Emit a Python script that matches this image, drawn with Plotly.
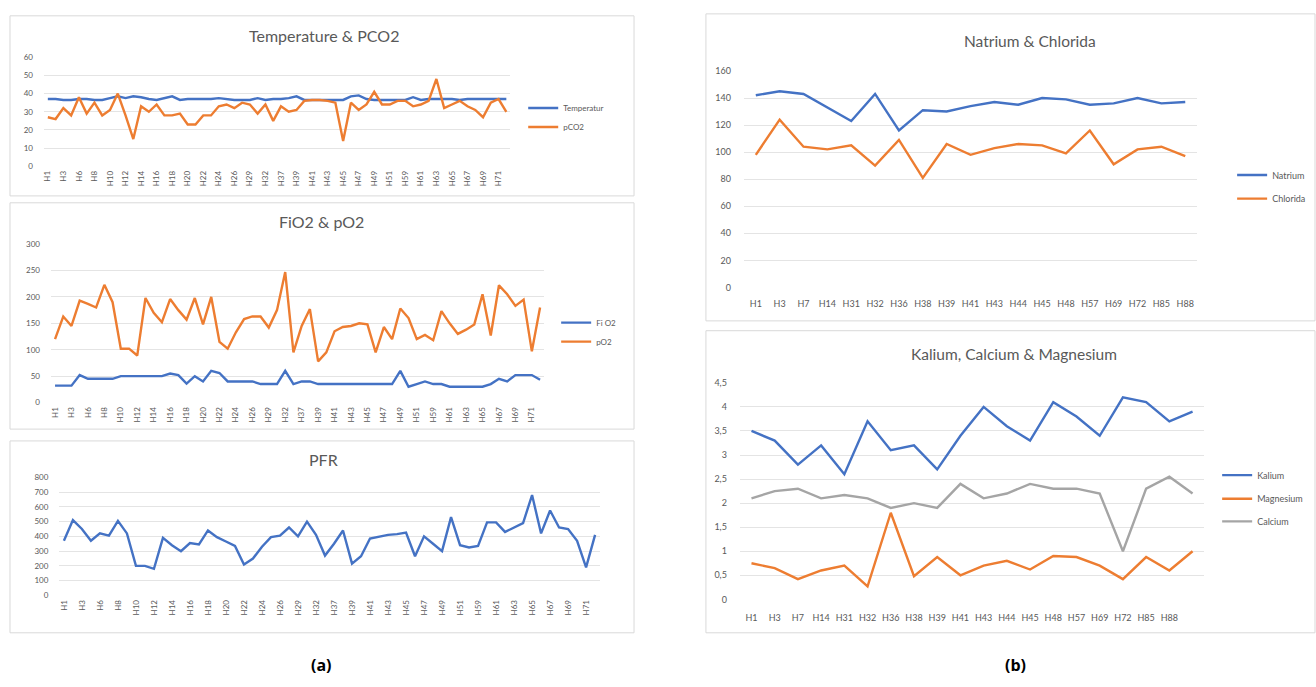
import plotly.graph_objects as go

# ---------------- data ----------------
left_cats = ["H1","H2","H3","H5","H6","H7","H8","H9","H10","H11",
             "H12","H13","H14","H15","H16","H17","H18","H19","H20","H21",
             "H22","H23","H24","H25","H26","H28","H29","H31","H32","H34",
             "H37","H38","H39","H40","H41","H42","H43","H44","H45","H46",
             "H47","H48","H49","H50","H51","H53","H59","H60","H61","H62",
             "H63","H64","H65","H66","H67","H68","H69","H70","H71","H72"]

temperatur = [37,37,36.5,36.5,37,37,36.5,36.5,37.5,38.5,
              37.5,38.5,38,37,36.5,37.5,38.5,36.5,37,37,
              37,37,37.5,37,36.5,36.5,36.5,37.5,36.5,37,
              37,37.5,38.5,36.5,36.5,36.5,36.5,36.5,36.5,38.5,
              39,37,36.5,36.5,36.5,36.5,36.5,38,36.5,37,
              37,37,37,36.5,37,37,37,37,37,37]
pco2 = [27,26,32,28,38,29,35,28,31,40,
        28,15,33,30,34,28,28,29,23,23,
        28,28,33,34,32,35,34,29,34,25,
        33,30,31,36,36.5,36.5,36,35,14,35,
        31,34,41,34,34,36,36,33,34,36,
        48,32,34,36,33,31,27,35,37,30]

fio2 = [32,32,32,52,45,45,45,45,50,50,
        50,50,50,50,55,52,36,50,40,60,
        56,40,40,40,40,35,35,35,60,35,
        40,40,35,35,35,35,35,35,35,35,
        35,35,60,30,35,40,35,35,30,30,
        30,30,30,35,45,40,52,52,52,43]
po2 = [120,163,145,193,187,180,223,190,102,102,
       89,198,170,152,196,175,157,198,148,200,
       115,102,133,158,163,163,142,175,247,95,
       145,177,78,95,135,143,145,150,148,95,
       143,120,178,160,120,128,118,173,150,130,
       138,148,205,127,222,205,183,195,97,180]

pfr = [370,510,450,370,420,405,505,420,200,200,
       180,390,340,300,355,345,440,395,365,335,
       210,250,330,395,405,460,400,500,410,270,
       350,440,215,265,385,400,410,415,425,265,
       400,350,300,530,340,325,335,495,495,430,
       460,490,680,420,575,460,450,370,190,410]

nacl_cats = ["H1","H3","H7","H14","H31","H32","H36","H38","H39","H41",
             "H43","H44","H45","H48","H57","H69","H72","H85","H88"]
natrium = [142,145,143,133,123,143,116,131,130,134,137,135,140,139,135,136,140,136,137]
chlorida = [98,124,104,102,105,90,109,81,106,98,103,106,105,99,116,91,102,104,97]

kcm_labels = ["H1","H3","H7","H14","H31","H32","H36","H38","H39","H41",
              "H43","H44","H45","H48","H57","H69","H72","H85","H88"]
kcm_x = list(range(20))
kalium = [3.5,3.3,2.8,3.2,2.6,3.7,3.1,3.2,2.7,3.4,4.0,3.6,3.3,4.1,3.8,3.4,4.2,4.1,3.7,3.9]
magnesium = [0.75,0.65,0.42,0.6,0.7,0.27,1.8,0.48,0.88,0.5,0.7,0.8,0.62,0.9,0.88,0.7,0.42,0.88,0.6,1.0]
calcium = [2.1,2.25,2.3,2.1,2.17,2.1,1.9,2.0,1.9,2.4,2.1,2.2,2.4,2.3,2.3,2.2,1.0,2.3,2.55,2.2]

# ---------------- layout helpers ----------------
W, H = 1316, 687
def px(x): return x / W
def py(y): return 1 - y / H

BLUE = "#4472C4"
ORANGE = "#ED7D31"
GRAY = "#A5A5A5"
TXT = "#595959"
FONT = "Lato"

fig = go.Figure()

def add_line(x, y, name, color, xa, ya, legend, show=True):
    fig.add_trace(go.Scatter(x=x, y=y, name=name, mode="lines",
                             line=dict(color=color, width=2.4),
                             xaxis=xa, yaxis=ya, legend=legend,
                             showlegend=show, hoverinfo="x+y+name"))

add_line(left_cats, temperatur, "Temperatur", BLUE, "x", "y", "legend")
add_line(left_cats, pco2, "pCO2", ORANGE, "x", "y", "legend")
add_line(left_cats, fio2, "Fi O2", BLUE, "x2", "y2", "legend2")
add_line(left_cats, po2, "pO2", ORANGE, "x2", "y2", "legend2")
add_line(left_cats, pfr, "PFR", BLUE, "x3", "y3", "legend", show=False)
add_line(nacl_cats, natrium, "Natrium", BLUE, "x4", "y4", "legend3")
add_line(nacl_cats, chlorida, "Chlorida", ORANGE, "x4", "y4", "legend4")
add_line(kcm_x, kalium, "Kalium", BLUE, "x5", "y5", "legend5")
add_line(kcm_x, magnesium, "Magnesium", ORANGE, "x5", "y5", "legend6")
add_line(kcm_x, calcium, "Calcium", GRAY, "x5", "y5", "legend7")

tickfont_small = dict(family=FONT, size=8, color=TXT)
tickfont_right = dict(family=FONT, size=9, color=TXT)
grid = "#e4e4e4"

def xcat(domain, n, vals, text=None, angle=-90, font=tickfont_small, standoff=2):
    d = dict(domain=domain, range=[-0.5, n - 0.5], showgrid=False, zeroline=False,
             showline=False, ticks="", tickangle=angle, tickfont=font,
             tickmode="array", tickvals=vals, fixedrange=True,
             ticklabelstandoff=standoff)
    if text is not None:
        d["ticktext"] = text
    return d

def yax(domain, rng, dtick, anchor, font=tickfont_small, standoff=10):
    return dict(domain=domain, range=rng, dtick=dtick, showgrid=True, gridcolor=grid,
                gridwidth=1, zeroline=False, showline=False, ticks="", tickfont=font,
                anchor=anchor, fixedrange=True, ticklabelstandoff=standoff)

layout = dict(
    width=W, height=H, margin=dict(l=0, r=0, t=0, b=0),
    paper_bgcolor="white", plot_bgcolor="white",
    separators=", ",
    xaxis=xcat([px(42), px(509)], 60, left_cats[::2]),
    yaxis=yax([py(163), py(52)], [0, 60], 10, "x"),
    xaxis2=xcat([px(49), px(543)], 60, left_cats[::2]),
    yaxis2=yax([py(403), py(242)], [0, 300], 50, "x2"),
    xaxis3=xcat([px(57.5), px(598.5)], 60, left_cats[::2]),
    yaxis3=yax([py(599), py(479)], [0, 800], 100, "x3"),
    xaxis4=xcat([px(743), px(1197)], 19, nacl_cats, angle=0, font=tickfont_right, standoff=10),
    yaxis4=yax([py(286), py(66)], [0, 160], 20, "x4", font=tickfont_right, standoff=12),
    xaxis5=xcat([px(739), px(1204)], 20, list(range(19)), kcm_labels, angle=0, font=tickfont_right, standoff=12),
    yaxis5=yax([py(603), py(383)], [0, 4.5], 0.5, "x5", font=tickfont_right, standoff=12),
)
for ax in ["xaxis", "xaxis2", "xaxis3", "xaxis4", "xaxis5"]:
    layout[ax]["anchor"] = "y" + ax[5:]

def legend_at(x, y, size=9):
    return dict(x=px(x), y=py(y), xanchor="left", yanchor="top",
                font=dict(family=FONT, size=size, color=TXT),
                bgcolor="rgba(0,0,0,0)", itemwidth=30, tracegroupgap=0,
                traceorder="normal")

layout["legend"] = legend_at(522, 89, 8)
layout["legend2"] = legend_at(555, 307, 8)
layout["legend3"] = legend_at(1232, 157, 9)
layout["legend4"] = legend_at(1232, 181, 9)
layout["legend5"] = legend_at(1217, 462, 9)
layout["legend6"] = legend_at(1217, 486, 9)
layout["legend7"] = legend_at(1217, 509, 9)

fig.update_layout(**layout)

# card frames
cards = [(8, 10, 633, 193), (8, 200, 633, 430), (8, 442, 633, 637),
         (705, 8, 1315, 320), (705, 330, 1315, 637)]
for (x0, y0, x1, y1) in cards:
    fig.add_shape(type="rect", xref="paper", yref="paper",
                  x0=px(x0), x1=px(x1), y0=py(y1), y1=py(y0),
                  line=dict(color="#d9d9d9", width=1), fillcolor="rgba(0,0,0,0)", layer="below")

titles = [("Temperature &amp; PCO2", 322, 30, 16), ("FiO2 &amp; pO2", 320, 219, 16), ("PFR", 322, 461, 16),
          ("Natrium &amp; Chlorida", 1030, 36, 15.5), ("Kalium, Calcium &amp; Magnesium", 1014, 354, 15.5)]
for t, x, y, s in titles:
    fig.add_annotation(text=t, x=px(x), y=py(y), xref="paper", yref="paper",
                       showarrow=False, xanchor="center", yanchor="middle",
                       font=dict(family=FONT, size=s, color=TXT))

for t, x in [("(a)", 320), ("(b)", 1015)]:
    fig.add_annotation(text="<b>" + t + "</b>", x=px(x), y=py(670), xref="paper", yref="paper",
                       showarrow=False, xanchor="center", yanchor="middle",
                       font=dict(family="Open Sans", size=16, color="#000000"))

fig.write_html("out.html")
